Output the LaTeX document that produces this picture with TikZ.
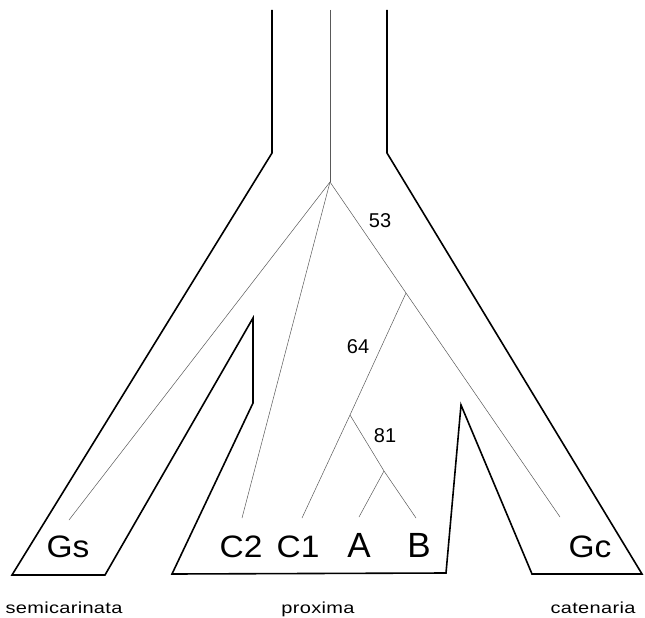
\documentclass[tikz,border=0pt]{standalone}
\usepackage{fontspec}
\setmainfont{Liberation Sans}
\begin{document}
\begin{tikzpicture}[x=1pt, y=-1pt,
	outline/.style={line width=1.6pt, line join=miter},
	branch/.style={line width=0.5pt, black!65},
	taxon/.style={font=\fontsize{31}{31}\selectfont\addfontfeature{FakeStretch=1.08}, anchor=base, inner sep=0pt},
	bigtaxon/.style={font=\fontsize{35}{35}\selectfont, anchor=base, inner sep=0pt},
	support/.style={font=\fontsize{20}{20}\selectfont, inner sep=0pt},
	group/.style={font=\fontsize{16}{16}\selectfont\addfontfeature{FakeStretch=1.25,LetterSpace=2}, anchor=base, inner sep=0pt}]
		\useasboundingbox (0,0) rectangle (645,618);
		
		% species outlines
		\draw[outline] (272,10) -- (272,153) -- (12,575) -- (105,575) -- (253,318) -- (253,403) -- (172,574) -- (446,573) -- (461,405) -- (532,574) -- (642,574) -- (387,153) -- (387,10);
		
		% tree
		\coordinate (top) at (330,10);
		\coordinate (root) at (330,182);
		\coordinate (n64) at (406,293);
		\coordinate (n81) at (350,415);
		\coordinate (nAB) at (384,471);
		\coordinate (tGs) at (69,520);
		\coordinate (tC2) at (242,518);
		\coordinate (tC1) at (302,518);
		\coordinate (tA) at (359,517);
		\coordinate (tB) at (416,518);
		\coordinate (tGc) at (560,517);
		
		\draw[branch] (top) -- (root);
		\draw[branch] (root) -- (tGs);
		\draw[branch] (root) -- (tC2);
		\draw[branch] (root) -- (n64) -- (tGc);
		\draw[branch] (n64) -- (n81) -- (tC1);
		\draw[branch] (n81) -- (nAB) -- (tB);
		\draw[branch] (nAB) -- (tA);
		
		% bootstrap values
		\node[support] (s53) at (380,221) {53};
		\node[support] (s64) at (358,347) {64};
		\node[support] (s81) at (385,436) {81};
		
		% taxa
		\node[taxon] (Gs) at (68,557) {Gs};
		\node[taxon] (C2) at (241,557) {C2};
		\node[taxon] (C1) at (298,557) {C1};
		\node[bigtaxon] (A) at (359,557) {A};
		\node[bigtaxon] (B) at (419,557) {B};
		\node[taxon] (Gc) at (590,557) {Gc};
		
		% species
		\node[group] (semi) at (64,613) {semicarinata};
		\node[group] (prox) at (318,613) {proxima};
		\node[group] (cate) at (593,613) {catenaria};
	\end{tikzpicture}
\end{document}
